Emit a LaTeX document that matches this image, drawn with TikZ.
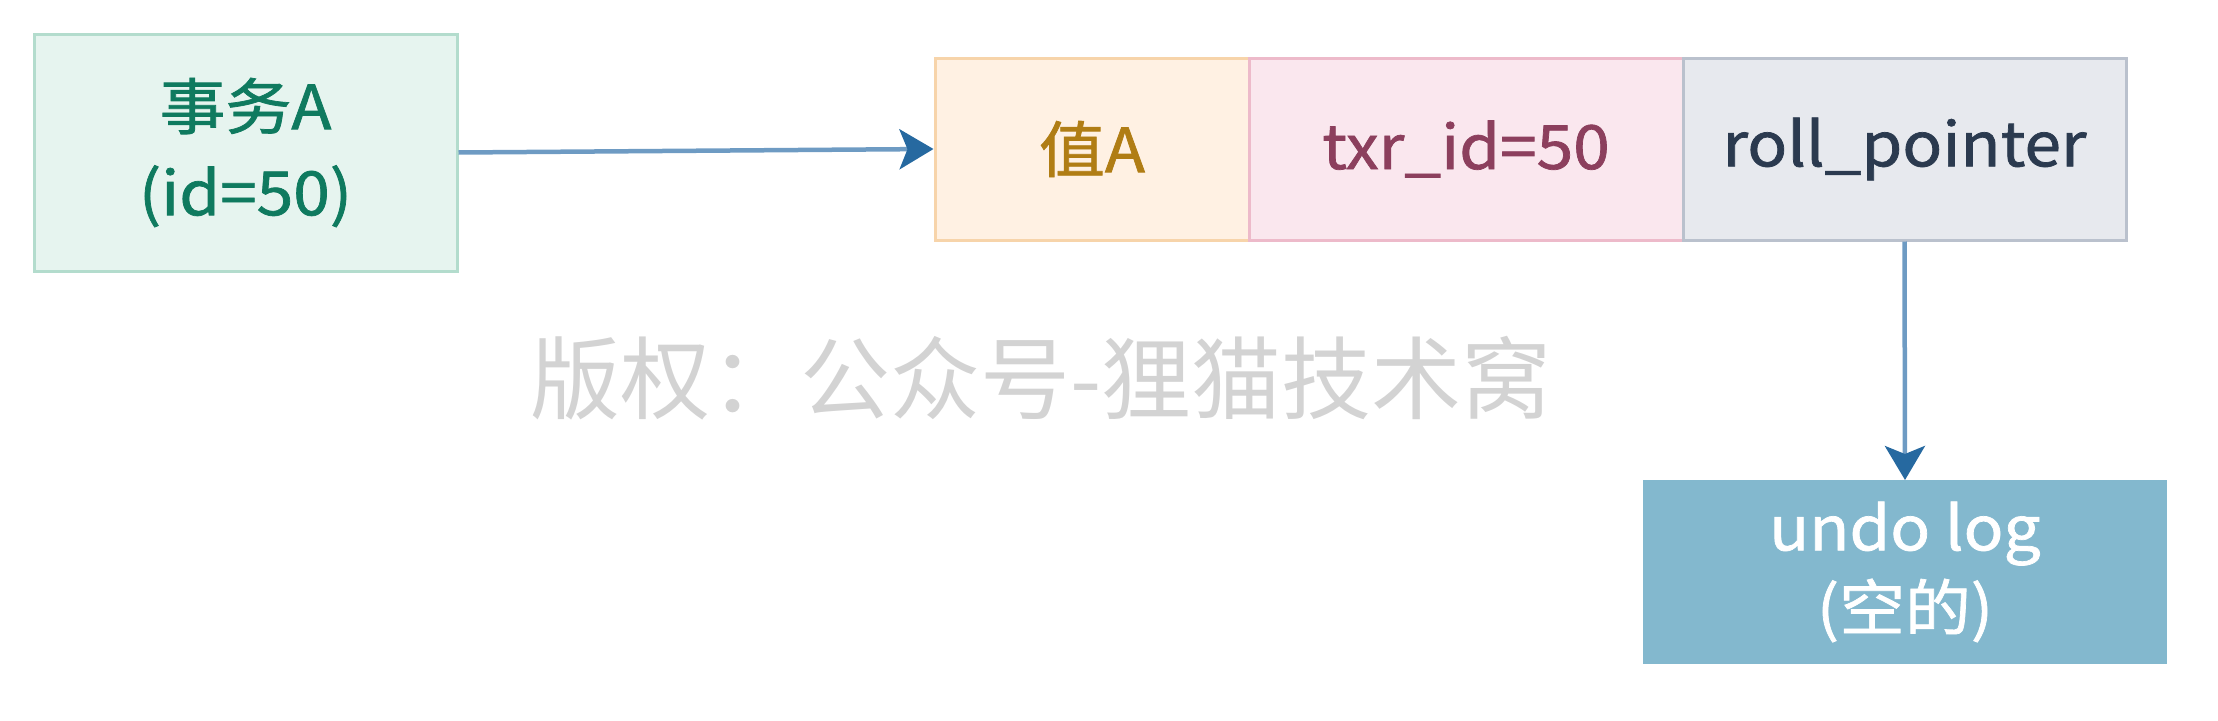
\documentclass[tikz,border=0pt]{standalone}
\usepackage{fontspec}
\setmainfont{Noto Sans CJK SC}
\newfontfamily\boxfont[FakeStretch=1.08, FakeBold=1.2]{Noto Sans CJK SC}
\usetikzlibrary{arrows.meta}
\definecolor{txfill}{HTML}{E6F4EF}
\definecolor{txdraw}{HTML}{B3DCCD}
\definecolor{txtext}{HTML}{0F7A5F}
\definecolor{valfill}{HTML}{FFF1E3}
\definecolor{valdraw}{HTML}{F7D4AA}
\definecolor{valtext}{HTML}{B07D14}
\definecolor{idfill}{HTML}{FAE7EE}
\definecolor{iddraw}{HTML}{EDBACA}
\definecolor{idtext}{HTML}{8C3F5D}
\definecolor{rpfill}{HTML}{E7E9EE}
\definecolor{rpdraw}{HTML}{BAC1CD}
\definecolor{rptext}{HTML}{2B3A4F}
\definecolor{undofill}{HTML}{83B8CE}
\definecolor{lineblue}{HTML}{6E9BC3}
\definecolor{headblue}{HTML}{2669A0}
\definecolor{wmgray}{HTML}{D3D3D3}
\tikzset{
  cell/.style={rectangle, inner sep=0pt, line width=3pt, align=center},
  bodytext/.style={font=\boxfont\fontsize{61}{86}\selectfont},
  conn/.style={draw=lineblue, line width=4.5pt,
    -{Stealth[length=34pt, width=40pt, inset=8pt, color=headblue]}}
}
\begin{document}
\begin{tikzpicture}[x=1pt,y=-1pt]
\useasboundingbox (0,0) rectangle (2218,720);
\node[cell, bodytext, fill=txfill, draw=txdraw, text=txtext,
  minimum width=423pt, minimum height=237pt] (tx) at (245.5,152.5) {事务A\\(id=50)};
\node[cell, bodytext, fill=valfill, draw=valdraw, text=valtext,
  minimum width=314pt, minimum height=182pt] (val) at (1092,149) {值A};
\node[cell, bodytext, fill=idfill, draw=iddraw, text=idtext,
  minimum width=434pt, minimum height=182pt] (txr) at (1466,149) {txr\_id=50};
\node[cell, bodytext, fill=rpfill, draw=rpdraw, text=rptext,
  minimum width=443pt, minimum height=182pt] (rp) at (1904.5,149) {roll\_pointer};
\node[cell, font=\boxfont\fontsize{61}{80}\selectfont, fill=undofill, draw=undofill, text=white,
  minimum width=521pt, minimum height=181pt] (undo) at (1905,572) {undo log\\(空的)};
\node[text=wmgray, font=\fontsize{90}{100}\selectfont, inner sep=0pt] (wm) at (1041,378) {版权：公众号-狸猫技术窝};
\draw[conn] (tx.east) -- (val.west);
\draw[conn] (rp.south) -- (undo.north);
\end{tikzpicture}
\end{document}
